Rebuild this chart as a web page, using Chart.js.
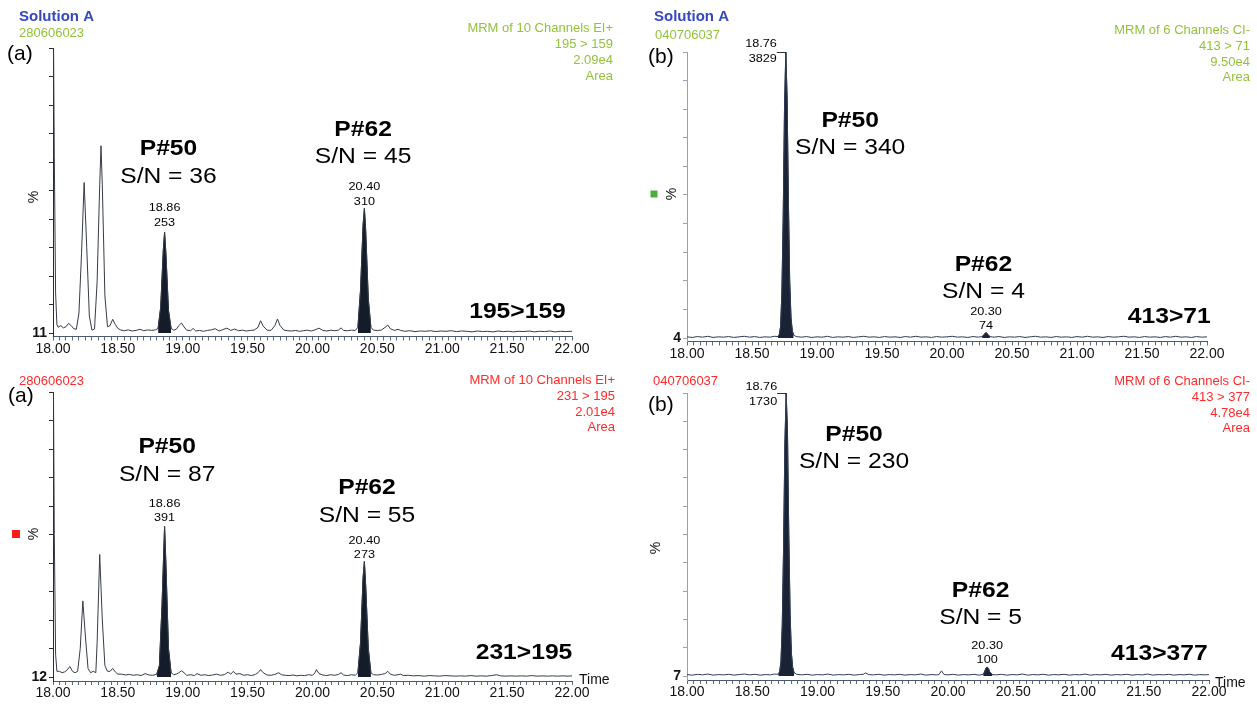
<!DOCTYPE html>
<html><head><meta charset="utf-8">
<script src="https://cdn.jsdelivr.net/npm/chart.js@4.4.1/dist/chart.umd.min.js"></script>
<style>
html,body{margin:0;padding:0;background:#fff;width:1257px;height:708px;overflow:hidden;}
.pane{position:absolute;}
</style></head><body>
<div class="pane" style="left:0;top:0;width:628px;height:365px"><canvas id="cTL"></canvas></div>
<div class="pane" style="left:628px;top:0;width:629px;height:365px"><canvas id="cTR"></canvas></div>
<div class="pane" style="left:0;top:365px;width:628px;height:343px"><canvas id="cBL"></canvas></div>
<div class="pane" style="left:628px;top:365px;width:629px;height:343px"><canvas id="cBR"></canvas></div>
<script>
// ---------- DATA ----------
const xTickLabels = ['18.00','18.50','19.00','19.50','20.00','20.50','21.00','21.50','22.00'];

// (a) 195>159 : [time (min), relative intensity %]
const traceTL = [[18.00,130],[18.01,62],[18.02,14],[18.03,3],[18.04,2],[18.06,2.6],[18.08,1.8],[18.10,2.2],[18.12,3.4],[18.14,2.6],[18.16,1.5],[18.18,1.3],[18.20,7],[18.22,28],[18.24,52.8],[18.26,30],[18.28,6],[18.30,1],[18.32,1.4],[18.34,18],[18.36,52],[18.37,65.7],[18.38,52],[18.40,13],[18.42,2.2],[18.44,2.6],[18.46,4.8],[18.48,3],[18.50,1.6],[18.52,1.1],[18.55,0.8],[18.58,1.1],[18.61,0.7],[18.64,0.9],[18.67,1.3],[18.70,0.8],[18.73,1.1],[18.76,0.9],[18.79,1.1],[18.81,1.6],[18.83,9],[18.85,29],[18.86,35.3],[18.87,28],[18.89,8],[18.91,1.6],[18.93,1.0],[18.95,1.3],[18.97,2.6],[18.99,3.5],[19.01,2.1],[19.03,1.0],[19.06,0.8],[19.08,1.6],[19.10,0.7],[19.13,0.9],[19.16,0.6],[19.19,0.9],[19.22,1.1],[19.25,1.5],[19.28,0.7],[19.31,1.2],[19.34,1.7],[19.37,0.9],[19.40,1.4],[19.43,0.8],[19.46,1.0],[19.49,0.7],[19.52,0.9],[19.55,1.0],[19.58,2.0],[19.60,4.3],[19.62,2.4],[19.65,1.0],[19.68,0.9],[19.71,2.6],[19.73,4.9],[19.75,2.6],[19.78,1.0],[19.81,0.8],[19.84,0.7],[19.87,0.9],[19.90,0.6],[19.93,0.8],[19.96,1.0],[19.99,0.7],[20.02,1.1],[20.05,1.7],[20.08,0.9],[20.11,0.7],[20.14,1.0],[20.17,0.8],[20.20,1.0],[20.22,1.8],[20.24,0.9],[20.27,0.8],[20.30,1.0],[20.33,0.9],[20.35,2.0],[20.37,15],[20.39,38],[20.40,43.7],[20.41,36],[20.43,12],[20.45,2.0],[20.47,1.0],[20.50,0.9],[20.53,1.0],[20.56,2.0],[20.58,2.8],[20.60,1.5],[20.63,0.9],[20.66,1.3],[20.68,0.9],[20.71,0.6],[20.75,0.8],[20.79,0.5],[20.83,0.7],[20.87,0.6],[20.91,0.8],[20.95,0.5],[20.99,0.7],[21.03,0.6],[21.07,0.8],[21.11,0.5],[21.15,0.7],[21.19,0.6],[21.23,0.4],[21.27,0.7],[21.31,0.5],[21.35,0.6],[21.39,0.4],[21.43,0.7],[21.47,0.5],[21.51,0.6],[21.55,0.4],[21.59,0.6],[21.63,0.5],[21.67,0.7],[21.71,0.4],[21.75,0.6],[21.79,0.5],[21.83,0.7],[21.87,0.4],[21.91,0.6],[21.95,0.5],[22.00,0.6]];

// (a) 231>195
const traceBL = [[18.00,130],[18.01,50],[18.02,8],[18.03,2],[18.05,2],[18.07,1.5],[18.09,1.8],[18.11,2.5],[18.13,3.7],[18.15,2],[18.17,1.5],[18.19,2],[18.21,10],[18.23,26.7],[18.25,14],[18.27,3],[18.29,1.5],[18.31,2],[18.33,1.5],[18.34,12],[18.36,43],[18.38,20],[18.40,4],[18.42,2],[18.44,2],[18.46,3],[18.48,1.8],[18.50,1],[18.53,1],[18.56,0.7],[18.59,0.9],[18.62,0.6],[18.65,0.8],[18.68,0.5],[18.71,1.2],[18.74,0.7],[18.77,0.6],[18.80,1],[18.82,4],[18.84,25],[18.86,52.9],[18.87,40],[18.89,10],[18.91,1.5],[18.93,0.8],[18.95,1],[18.97,1.5],[18.99,2.2],[19.01,1.5],[19.03,0.6],[19.06,0.8],[19.09,0.5],[19.11,1.2],[19.14,0.6],[19.17,0.8],[19.20,0.5],[19.23,0.7],[19.26,1],[19.29,0.6],[19.32,0.8],[19.35,1.7],[19.37,1],[19.39,2],[19.41,1],[19.44,1.2],[19.47,0.6],[19.50,0.8],[19.53,0.5],[19.56,0.9],[19.58,1.5],[19.60,2.6],[19.62,1.5],[19.65,0.7],[19.68,0.6],[19.71,0.9],[19.74,1.5],[19.76,0.8],[19.79,0.6],[19.82,0.5],[19.85,0.7],[19.88,0.4],[19.91,0.6],[19.94,0.5],[19.97,0.8],[20.00,0.6],[20.02,1.5],[20.03,2.6],[20.05,1.2],[20.08,0.7],[20.11,0.5],[20.14,0.8],[20.17,0.6],[20.20,0.9],[20.22,1.5],[20.24,0.7],[20.27,0.5],[20.30,0.8],[20.33,0.6],[20.35,1.5],[20.37,12],[20.39,35],[20.40,40.5],[20.41,32],[20.43,10],[20.45,1.5],[20.47,0.8],[20.50,0.7],[20.53,0.9],[20.56,1.2],[20.58,2],[20.60,1],[20.63,0.6],[20.66,0.8],[20.68,1],[20.70,0.5],[20.74,0.6],[20.78,0.4],[20.82,0.5],[20.86,0.3],[20.90,0.5],[20.94,0.4],[20.98,0.3],[21.02,0.5],[21.06,0.4],[21.10,0.3],[21.14,0.4],[21.18,0.3],[21.22,0.5],[21.26,0.3],[21.30,0.4],[21.34,0.3],[21.38,0.5],[21.42,0.8],[21.45,0.4],[21.49,0.3],[21.53,0.4],[21.57,0.3],[21.61,0.4],[21.65,0.3],[21.69,0.5],[21.73,0.3],[21.77,0.4],[21.81,0.3],[21.85,0.4],[21.89,0.3],[21.93,0.4],[21.97,0.3],[22.00,0.4]];

// (b) 413>71
const traceTR = [[18.00,0.4],[18.04,0.2],[18.08,0.5],[18.12,0.3],[18.16,0.6],[18.20,0.2],[18.24,0.4],[18.28,0.3],[18.32,0.5],[18.36,0.2],[18.40,0.4],[18.44,0.6],[18.48,0.3],[18.52,0.5],[18.56,0.2],[18.60,0.4],[18.64,0.3],[18.67,0.6],[18.70,0.5],[18.71,1.2],[18.72,4],[18.73,16],[18.74,42],[18.75,80],[18.76,100],[18.77,84],[18.78,48],[18.79,20],[18.80,7],[18.81,2.5],[18.82,1],[18.84,0.5],[18.88,0.3],[18.92,0.5],[18.96,0.2],[19.00,0.4],[19.04,0.3],[19.08,0.6],[19.12,0.2],[19.16,0.4],[19.20,0.3],[19.24,0.5],[19.28,0.2],[19.32,0.4],[19.36,0.6],[19.40,0.3],[19.44,0.4],[19.48,0.2],[19.52,0.5],[19.56,0.3],[19.60,0.4],[19.64,0.2],[19.68,0.5],[19.72,0.3],[19.76,0.6],[19.80,0.3],[19.84,0.4],[19.88,0.2],[19.92,0.5],[19.96,0.3],[20.00,0.4],[20.04,0.6],[20.08,0.3],[20.12,0.4],[20.16,0.2],[20.20,0.5],[20.24,0.3],[20.27,0.5],[20.29,1.4],[20.30,1.9],[20.31,1.4],[20.33,0.5],[20.36,0.3],[20.40,0.5],[20.44,0.2],[20.48,0.4],[20.52,0.3],[20.56,0.5],[20.60,0.2],[20.64,0.4],[20.68,0.6],[20.72,0.3],[20.76,0.4],[20.80,0.2],[20.84,0.5],[20.88,0.3],[20.92,0.4],[20.96,0.2],[21.00,0.5],[21.04,0.3],[21.08,0.6],[21.12,0.3],[21.16,0.4],[21.20,0.2],[21.24,0.5],[21.28,0.3],[21.32,0.4],[21.36,0.6],[21.40,0.3],[21.44,0.4],[21.48,0.2],[21.52,0.5],[21.56,0.3],[21.60,0.4],[21.64,0.2],[21.68,0.5],[21.72,0.3],[21.76,0.6],[21.80,0.3],[21.84,0.4],[21.88,0.2],[21.92,0.5],[21.96,0.3],[22.00,0.4]];

// (b) 413>377
const traceBR = [[18.00,0.5],[18.04,0.3],[18.08,0.6],[18.12,0.4],[18.16,0.7],[18.20,0.3],[18.24,0.5],[18.28,0.4],[18.32,0.6],[18.36,0.3],[18.40,0.5],[18.44,0.7],[18.48,0.4],[18.52,0.6],[18.56,0.3],[18.60,0.5],[18.64,0.4],[18.67,0.7],[18.70,0.6],[18.71,1.5],[18.72,5],[18.73,18],[18.74,45],[18.75,82],[18.76,100],[18.77,86],[18.78,50],[18.79,22],[18.80,8],[18.81,3],[18.82,1.2],[18.84,0.6],[18.88,0.4],[18.92,0.6],[18.96,0.3],[19.00,0.5],[19.04,0.4],[19.08,0.7],[19.12,0.3],[19.16,0.5],[19.20,0.4],[19.24,0.6],[19.28,0.3],[19.32,0.5],[19.35,0.6],[19.37,1.1],[19.39,0.5],[19.43,0.4],[19.47,0.6],[19.51,0.3],[19.55,0.5],[19.59,0.4],[19.63,0.6],[19.67,0.3],[19.71,0.5],[19.75,0.4],[19.79,0.7],[19.83,0.3],[19.87,0.5],[19.91,0.4],[19.93,0.5],[19.95,1.8],[19.97,0.5],[20.00,0.4],[20.04,0.6],[20.08,0.3],[20.12,0.5],[20.16,0.4],[20.20,0.6],[20.24,0.3],[20.27,0.6],[20.28,1.4],[20.29,2.7],[20.30,3.2],[20.31,2.6],[20.32,1.4],[20.34,0.5],[20.37,0.4],[20.41,0.6],[20.45,0.3],[20.49,0.5],[20.53,0.4],[20.57,0.7],[20.61,0.3],[20.65,0.5],[20.69,0.4],[20.73,0.6],[20.77,0.3],[20.81,0.5],[20.85,0.4],[20.89,0.6],[20.93,0.3],[20.97,0.5],[21.01,0.4],[21.05,0.7],[21.09,0.3],[21.13,0.5],[21.17,0.4],[21.21,0.6],[21.25,0.3],[21.29,0.5],[21.33,0.4],[21.37,0.6],[21.41,0.3],[21.45,0.5],[21.49,0.4],[21.53,0.7],[21.57,0.3],[21.61,0.5],[21.65,0.4],[21.69,0.6],[21.73,0.3],[21.77,0.5],[21.81,0.4],[21.85,0.6],[21.89,0.3],[21.93,0.5],[21.97,0.4],[22.00,0.5]];

// integrated peak windows (start, end in min)
const peakWindowsTL = [[18.81,18.91],[20.35,20.45]];
const peakWindowsBL = [[18.80,18.91],[20.35,20.45]];
const peakWindowsTR = [[18.70,18.82],[20.27,20.33]];
const peakWindowsBR = [[18.70,18.82],[20.27,20.34]];

// peak apex labels: retention time / height
const peakLabelsTL = [{time:18.86, lines:['18.86','253']}, {time:20.40, lines:['20.40','310']}];
const peakLabelsBL = [{time:18.86, lines:['18.86','391']}, {time:20.40, lines:['20.40','273']}];
const peakLabelsTR = [{time:18.76, lines:['18.76','3829']}, {time:20.30, lines:['20.30','74']}];
const peakLabelsBR = [{time:18.76, lines:['18.76','1730']}, {time:20.30, lines:['20.30','100']}];

// compound / S/N annotations (time, %)
const notesTL = [['P#50',18.89,64.6,true],['S/N = 36',18.89,54.7,false],['P#62',20.39,71.2,true],['S/N = 45',20.39,61.8,false],['195>159',21.58,7.4,true]];
const notesBL = [['P#50',18.88,80.7,true],['S/N = 87',18.88,70.9,false],['P#62',20.42,66.3,true],['S/N = 55',20.42,56.5,false],['231>195',21.63,8.4,true]];
const notesTR = [['P#50',19.255,75.9,true],['S/N = 340',19.255,66.4,false],['P#62',20.28,25.5,true],['S/N = 4',20.28,16.1,false],['413>71',21.71,7.3,true]];
const notesBR = [['P#50',19.28,85.2,true],['S/N = 230',19.28,75.6,false],['P#62',20.25,30.0,true],['S/N = 5',20.25,20.5,false],['413>377',21.62,7.8,true]];

const baseLabels = {TL:'11', TR:'4', BL:'12', BR:'7'};

// ---------- RENDERING ----------
const FONT = '"Liberation Sans", Arial, Helvetica, sans-serif';
const GREEN = '#93c23a', RED = '#ff2a2a', BLUE = '#3448c0';
const xTickValues = [];
for (let i = 0; i <= 80; i++) xTickValues.push(+(18 + i * 0.05).toFixed(2));
const yTickValues = [0,10,20,30,40,50,60,70,80,90,100];

function drawText(ctx, text, x, y, font, color, align, sx) {
  ctx.save();
  ctx.translate(x, y);
  ctx.scale(sx || 1, 1);
  ctx.font = font; ctx.fillStyle = color; ctx.textAlign = align || 'left'; ctx.textBaseline = 'middle';
  ctx.fillText(text, 0, 0);
  ctx.restore();
}

function makePanel(cfg) {
  const pts = cfg.trace.map(p => ({x: p[0], y: p[1]}));
  const fills = cfg.windows.map(w => ({
    data: pts.filter(p => p.x >= w[0] - 1e-9 && p.x <= w[1] + 1e-9),
    fill: 'origin', backgroundColor: cfg.fillColor, borderColor: cfg.fillColor,
    borderWidth: 1, pointRadius: 0, tension: 0
  }));
  const a = cfg.area;
  const pxPerPct = (a.base - a.top) / 100;
  const yMin = -(a.bottom - a.base) / pxPerPct;

  const notes = {
    id: 'notes' + cfg.key,
    afterDatasetsDraw(chart) {
      const ctx = chart.ctx, xs = chart.scales.x, ys = chart.scales.y;
      ctx.save();
      cfg.notes.forEach(n => {
        const font = (n[3] ? 'bold ' : '') + '22px ' + FONT;
        drawText(ctx, n[0], xs.getPixelForValue(n[1]), ys.getPixelForValue(n[2]), font, '#000', 'center', 1.12);
      });
      cfg.peakLabels.forEach((p, i) => {
        const pt = cfg.trace.reduce((b, q) => Math.abs(q[0] - p.time) < Math.abs(b[0] - p.time) ? q : b);
        const px = xs.getPixelForValue(pt[0]), py = ys.getPixelForValue(Math.min(pt[1], 100));
        const off = cfg.peakOffsets[i];
        const f = '11px ' + FONT;
        if (off.left) {
          p.lines.forEach((t, k) => drawText(ctx, t, px - 9, py + off.dy[k], f, '#000', 'right', 1.15));
          ctx.strokeStyle = '#333'; ctx.lineWidth = 1;
          ctx.beginPath(); ctx.moveTo(px - 9, Math.round(py) + 0.5); ctx.lineTo(px, Math.round(py) + 0.5); ctx.stroke();
        } else {
          p.lines.forEach((t, k) => drawText(ctx, t, px, py + off.dy[k], f, '#000', 'center', 1.15));
        }
      });
      cfg.header.forEach(h => {
        const x = h.x - cfg.ox, y = h.y - cfg.oy;
        if (h.box) { ctx.fillStyle = h.color; ctx.fillRect(x - h.box / 2, y - h.box / 2, h.box, h.box); return; }
        if (h.rot) {
          ctx.save(); ctx.translate(x, y); ctx.rotate(-Math.PI / 2);
          drawText(ctx, h.t, 0, 0, h.font, h.color, 'center', 1); ctx.restore(); return;
        }
        drawText(ctx, h.t, x, y, h.font, h.color, h.align || 'left', 1);
      });
      ctx.restore();
    }
  };

  new Chart(document.getElementById(cfg.id), {
    type: 'line',
    data: { datasets: [{ data: pts, borderColor: cfg.lineColor, borderWidth: 1, pointRadius: 0, fill: false, tension: 0 }, ...fills] },
    options: {
      responsive: true, maintainAspectRatio: false, animation: false,
      layout: { padding: { left: 0, top: a.top, right: cfg.W - a.right, bottom: 0 } },
      plugins: { legend: { display: false }, tooltip: { enabled: false } },
      scales: {
        x: {
          type: 'linear', min: 18, max: 22,
          afterFit: s => { s.height = cfg.H - a.bottom; },
          afterBuildTicks: s => { s.ticks = xTickValues.map(v => ({ value: v })); },
          ticks: { autoSkip: false, maxRotation: 0, minRotation: 0, padding: 0, color: '#111',
                   font: { family: FONT, size: 14 },
                   callback: v => { const i = Math.round((v - 18) * 2); return Math.abs((v - 18) * 2 - i) < 1e-6 ? xTickLabels[i] : ''; } },
          grid: { drawOnChartArea: false, tickLength: 4, color: '#5b6b86' },
          border: { color: cfg.xAxisColor, width: 1 }
        },
        y: {
          min: yMin, max: 100,
          afterFit: s => { s.width = a.left; },
          afterBuildTicks: s => { s.ticks = yTickValues.map(v => ({ value: v })); },
          ticks: { padding: 2, color: '#111', font: { family: FONT, size: 14, weight: 'bold' },
                   callback: v => v === 0 ? cfg.baseLabel : '' },
          grid: { drawOnChartArea: false, tickLength: 4, color: cfg.yAxisColor },
          border: { color: cfg.yAxisColor, width: 1 }
        }
      }
    },
    plugins: [notes]
  });
}

const hf = s => s + 'px ' + FONT;

makePanel({
  key: 'TL', id: 'cTL', ox: 0, oy: 0, W: 628, H: 365,
  area: { left: 53, right: 572, top: 48, base: 333, bottom: 336.5 },
  trace: traceTL, windows: peakWindowsTL, peakLabels: peakLabelsTL, notes: notesTL, baseLabel: baseLabels.TL,
  peakOffsets: [{ dy: [-24, -9] }, { dy: [-21, -6] }],
  lineColor: '#353b47', fillColor: '#141b29', yAxisColor: '#2a2a2a', xAxisColor: '#4c5a70',
  header: [
    { t: 'Solution A', x: 19, y: 17, font: 'bold ' + hf(15), color: BLUE },
    { t: '280606023', x: 19, y: 33, font: hf(13), color: GREEN },
    { t: '(a)', x: 7, y: 54, font: hf(21), color: '#000' },
    { t: 'MRM of 10 Channels EI+', x: 613, y: 28, font: hf(13), color: GREEN, align: 'right' },
    { t: '195 > 159', x: 613, y: 44, font: hf(13), color: GREEN, align: 'right' },
    { t: '2.09e4', x: 613, y: 60, font: hf(13), color: GREEN, align: 'right' },
    { t: 'Area', x: 613, y: 76, font: hf(13), color: GREEN, align: 'right' },
    { t: '%', x: 34, y: 197, font: hf(14), color: '#111', rot: true }
  ]
});

makePanel({
  key: 'TR', id: 'cTR', ox: 628, oy: 0, W: 629, H: 365,
  area: { left: 59, right: 579, top: 52, base: 338, bottom: 341.5 },
  trace: traceTR, windows: peakWindowsTR, peakLabels: peakLabelsTR, notes: notesTR, baseLabel: baseLabels.TR,
  peakOffsets: [{ left: true, dy: [-8, 7] }, { dy: [-21, -7] }],
  lineColor: '#2f3d55', fillColor: '#1a2336', yAxisColor: '#93a3b8', xAxisColor: '#4c5a70',
  header: [
    { t: 'Solution A', x: 654, y: 17, font: 'bold ' + hf(15), color: BLUE },
    { t: '040706037', x: 655, y: 35, font: hf(13), color: GREEN },
    { t: '(b)', x: 648, y: 57, font: hf(21), color: '#000' },
    { t: 'MRM of 6 Channels CI-', x: 1250, y: 30, font: hf(13), color: GREEN, align: 'right' },
    { t: '413 > 71', x: 1250, y: 46, font: hf(13), color: GREEN, align: 'right' },
    { t: '9.50e4', x: 1250, y: 62, font: hf(13), color: GREEN, align: 'right' },
    { t: 'Area', x: 1250, y: 77, font: hf(13), color: GREEN, align: 'right' },
    { box: 7, x: 654, y: 194, color: '#4caf3a' },
    { t: '%', x: 672, y: 194, font: hf(14), color: '#111', rot: true }
  ]
});

makePanel({
  key: 'BL', id: 'cBL', ox: 0, oy: 365, W: 628, H: 343,
  area: { left: 53, right: 572, top: 27, base: 312, bottom: 316 },
  trace: traceBL, windows: peakWindowsBL, peakLabels: peakLabelsBL, notes: notesBL, baseLabel: baseLabels.BL,
  peakOffsets: [{ dy: [-22, -8] }, { dy: [-21, -7] }],
  lineColor: '#353b47', fillColor: '#141b29', yAxisColor: '#2a2a2a', xAxisColor: '#4c5a70',
  header: [
    { t: '280606023', x: 19, y: 381, font: hf(13), color: RED },
    { t: '(a)', x: 8, y: 396, font: hf(21), color: '#000' },
    { t: 'MRM of 10 Channels EI+', x: 615, y: 380, font: hf(13), color: RED, align: 'right' },
    { t: '231 > 195', x: 615, y: 396, font: hf(13), color: RED, align: 'right' },
    { t: '2.01e4', x: 615, y: 412, font: hf(13), color: RED, align: 'right' },
    { t: 'Area', x: 615, y: 427, font: hf(13), color: RED, align: 'right' },
    { box: 8, x: 16, y: 534, color: '#ff1a1a' },
    { t: '%', x: 34, y: 534, font: hf(14), color: '#111', rot: true },
    { t: 'Time', x: 579, y: 680, font: hf(14), color: '#111' }
  ]
});

makePanel({
  key: 'BR', id: 'cBR', ox: 628, oy: 365, W: 629, H: 343,
  area: { left: 59, right: 581, top: 28, base: 311, bottom: 315 },
  trace: traceBR, windows: peakWindowsBR, peakLabels: peakLabelsBR, notes: notesBR, baseLabel: baseLabels.BR,
  peakOffsets: [{ left: true, dy: [-6, 9] }, { dy: [-21, -7] }],
  lineColor: '#2f3d55', fillColor: '#1a2336', yAxisColor: '#93a3b8', xAxisColor: '#4c5a70',
  header: [
    { t: '040706037', x: 653, y: 381, font: hf(13), color: RED },
    { t: '(b)', x: 648, y: 405, font: hf(21), color: '#000' },
    { t: 'MRM of 6 Channels CI-', x: 1250, y: 381, font: hf(13), color: RED, align: 'right' },
    { t: '413 > 377', x: 1250, y: 397, font: hf(13), color: RED, align: 'right' },
    { t: '4.78e4', x: 1250, y: 413, font: hf(13), color: RED, align: 'right' },
    { t: 'Area', x: 1250, y: 428, font: hf(13), color: RED, align: 'right' },
    { t: '%', x: 656, y: 548, font: hf(14), color: '#111', rot: true },
    { t: 'Time', x: 1215, y: 683, font: hf(14), color: '#111' }
  ]
});
</script>
</body></html>
